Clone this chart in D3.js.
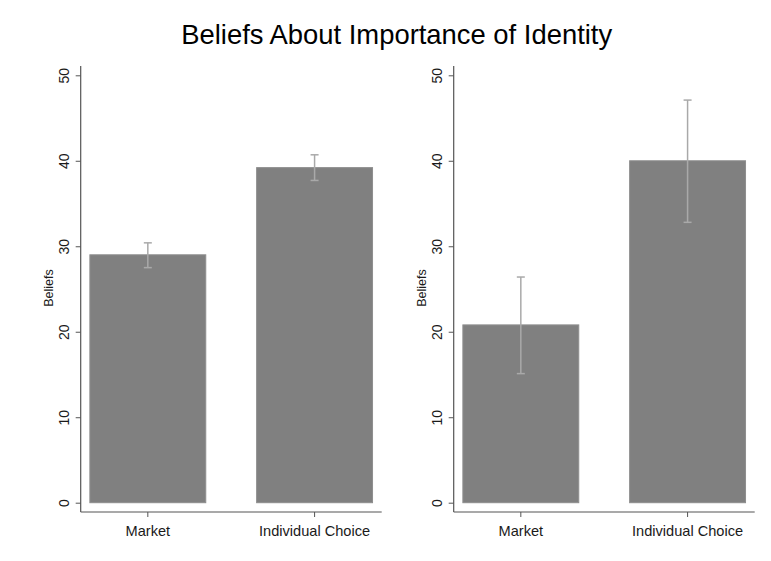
<!DOCTYPE html>
<html>
<head>
<meta charset="utf-8">
<script src="https://cdn.jsdelivr.net/npm/d3@7"></script>
<style>
  body { margin: 0; background: #fff; }
  svg { font-family: "Liberation Sans", Arial, sans-serif; }
</style>
</head>
<body>
<div id="chart"></div>
<script>
// data
const categories = ['Market', 'Individual Choice']
const left_means = [29.0, 39.2]
const left_low = [27.5, 37.7]
const left_high = [30.4, 40.7]
const right_means = [20.8, 40.0]
const right_low = [15.1, 32.8]
const right_high = [26.4, 47.1]
const y_ticks = [0, 10, 20, 30, 40, 50]
const title = 'Beliefs About Importance of Identity'
const y_label = 'Beliefs'

const width = 771, height = 561

const svg = d3.select('#chart')
    .append('svg')
    .attr('width', width)
    .attr('height', height)

svg.append('text')
    .attr('x', 396.7)
    .attr('y', 43.5)
    .attr('text-anchor', 'middle')
    .attr('font-size', 27.4)
    .attr('fill', '#000')
    .text(title)

const make_panel = (left, means, low, high) => {

    const w = 301
    const top = 66, bottom = 512

    const y = d3.scaleLinear()
        .domain([0, 50])
        .range([502.7, 75.3])
    const x = d3.scaleBand()
        .domain(categories)
        .range([left, left + w])
        .paddingInner(0.305)
        .paddingOuter(0.055)

    const g = svg.append('g')

    // bars
    g.selectAll('rect')
        .data(categories)
        .join('rect')
        .attr('x', d => x(d))
        .attr('width', x.bandwidth())
        .attr('y', (d, i) => y(means[i]))
        .attr('height', (d, i) => y(0) - y(means[i]))
        .attr('fill', '#808080')
        .attr('stroke', '#8e8e8e')
        .attr('stroke-width', 1)

    // error bars
    const cx = d => x(d) + x.bandwidth() / 2
    const err = g.append('g')
        .attr('stroke', '#a9a9a9')
        .attr('stroke-width', 1.5)
    categories.forEach((d, i) => {
        err.append('line')
            .attr('x1', cx(d)).attr('x2', cx(d))
            .attr('y1', y(low[i])).attr('y2', y(high[i]))
        ;[low[i], high[i]].forEach(v => {
            err.append('line')
                .attr('x1', cx(d) - 4).attr('x2', cx(d) + 4)
                .attr('y1', y(v)).attr('y2', y(v))
        })
    })

    // axis lines
    g.append('line')
        .attr('x1', left).attr('x2', left)
        .attr('y1', top).attr('y2', bottom)
        .attr('stroke', '#555').attr('stroke-width', 1.2)
    g.append('line')
        .attr('x1', left).attr('x2', left + w)
        .attr('y1', bottom).attr('y2', bottom)
        .attr('stroke', '#555').attr('stroke-width', 1.2)

    // y axis
    const yAxis = g.append('g')
        .attr('transform', `translate(${left},0)`)
        .call(d3.axisLeft(y).tickValues(y_ticks).tickSize(5).tickPadding(0))
    yAxis.select('.domain').remove()
    yAxis.selectAll('.tick line').attr('stroke', '#555')
    yAxis.selectAll('.tick text')
        .attr('x', 0).attr('dy', 0)
        .attr('transform', 'translate(-12,0) rotate(-90)')
        .attr('text-anchor', 'middle')
        .attr('font-size', 14)
        .attr('font-family', '"Liberation Sans", Arial, sans-serif')
        .attr('fill', '#1a1a1a')
        .attr('y', 0)

    // x axis
    const xAxis = g.append('g')
        .attr('transform', `translate(0,${bottom})`)
        .call(d3.axisBottom(x).tickSize(5).tickPadding(9))
    xAxis.select('.domain').remove()
    xAxis.selectAll('.tick line').attr('stroke', '#555')
    xAxis.selectAll('.tick text')
        .attr('font-size', 14.6)
        .attr('font-family', '"Liberation Sans", Arial, sans-serif')
        .attr('fill', '#1a1a1a')

    // y title
    g.append('text')
        .attr('transform', `translate(${left - 28},288) rotate(-90)`)
        .attr('text-anchor', 'middle')
        .attr('font-size', 12.5)
        .attr('fill', '#1a1a1a')
        .text(y_label)
}

make_panel(80.7, left_means, left_low, left_high)
make_panel(453.7, right_means, right_low, right_high)
</script>
</body>
</html>
